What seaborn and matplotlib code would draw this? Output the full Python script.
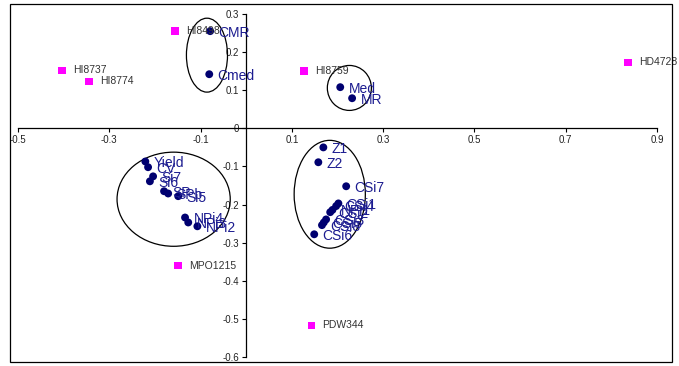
import pandas as pd
import matplotlib
matplotlib.use("Agg")
import matplotlib.pyplot as plt
import seaborn as sns
from matplotlib.patches import Ellipse, Rectangle
from matplotlib.ticker import FuncFormatter

# genotypes (magenta squares)
geno_names = ['HI8498', 'HI8737', 'HI8774', 'HI8759', 'HD4728', 'MPO1215', 'PDW344']
geno_x = [-0.156, -0.403, -0.344, 0.127, 0.836, -0.149, 0.143]
geno_y = [0.255, 0.152, 0.123, 0.150, 0.173, -0.360, -0.517]

# traits (navy circles)
trait_names = ['CMR', 'Cmed', 'Med', 'MR', 'Z1', 'Z2', 'CSi7', 'CSi1', 'CSi4', 'NPi1',
               'CSi2', 'CSi3', 'CSi5', 'CSi8', 'CSi6',
               'Yield', 'CV', 'Si7', 'Si6', 'SP', 'SPb', 'Si5', 'NPi4', 'NPi3', 'NPi2']
trait_x = [-0.079, -0.081, 0.206, 0.232, 0.169, 0.158, 0.219, 0.202, 0.197, 0.189,
           0.184, 0.175, 0.170, 0.166, 0.149,
           -0.221, -0.215, -0.204, -0.211, -0.180, -0.171, -0.149, -0.134, -0.127, -0.107]
trait_y = [0.255, 0.142, 0.108, 0.079, -0.050, -0.089, -0.152, -0.197, -0.204, -0.214,
           -0.220, -0.239, -0.247, -0.254, -0.278,
           -0.087, -0.102, -0.126, -0.139, -0.165, -0.171, -0.178, -0.234, -0.247, -0.257]

# grouping ellipses: centre x, centre y, width, height
ell_cx = [-0.086, 0.226, -0.159, 0.183]
ell_cy = [0.192, 0.106, -0.186, -0.173]
ell_w = [0.090, 0.0965, 0.248, 0.156]
ell_h = [0.194, 0.118, 0.247, 0.283]

geno_df = pd.DataFrame({'x': geno_x, 'y': geno_y, 'name': geno_names})
trait_df = pd.DataFrame({'x': trait_x, 'y': trait_y, 'name': trait_names})

sns.set_style('white')
plt.rcParams['font.family'] = ['Liberation Sans', 'DejaVu Sans']

fig = plt.figure(figsize=(6.79, 3.66), dpi=100)
ax = fig.add_axes([18 / 679, 9 / 366, 639 / 679, 343 / 366])

sns.scatterplot(data=geno_df, x='x', y='y', marker='s', color='#ff00ff', s=30,
                edgecolor='none', ax=ax, zorder=3)
sns.scatterplot(data=trait_df, x='x', y='y', marker='o', color='#000070', s=32,
                edgecolor='none', ax=ax, zorder=3)

for _, r in geno_df.iterrows():
    ax.annotate(r['name'], (r['x'], r['y']), xytext=(8, 0), textcoords='offset points',
                va='center', ha='left', fontsize=7.5, color='#333333')
for _, r in trait_df.iterrows():
    ax.annotate(r['name'], (r['x'], r['y']), xytext=(6, -1), textcoords='offset points',
                va='center', ha='left', fontsize=10, color='#1c1c90')

for cx, cy, w, h in zip(ell_cx, ell_cy, ell_w, ell_h):
    ax.add_patch(Ellipse((cx, cy), w, h, fill=False, edgecolor='black', lw=0.9))

ax.set_xlim(-0.5, 0.9)
ax.set_ylim(-0.6, 0.3)
ax.set_xticks([-0.5, -0.3, -0.1, 0.1, 0.3, 0.5, 0.7, 0.9])
ax.set_yticks([0.3, 0.2, 0.1, 0, -0.1, -0.2, -0.3, -0.4, -0.5, -0.6])
fmt = FuncFormatter(lambda v, p: '0' if abs(v) < 1e-9 else '{:g}'.format(round(v, 1)))
ax.xaxis.set_major_formatter(fmt)
ax.yaxis.set_major_formatter(fmt)
ax.set_xlabel('')
ax.set_ylabel('')

ax.spines['left'].set_position(('data', 0))
ax.spines['bottom'].set_position(('data', 0))
ax.spines['top'].set_visible(False)
ax.spines['right'].set_visible(False)
for sp in ['left', 'bottom']:
    ax.spines[sp].set_color('black')
    ax.spines[sp].set_linewidth(0.9)
ax.tick_params(axis='both', direction='out', length=3, width=0.8, color='black',
               labelsize=7, labelcolor='#222222', bottom=True, left=True, pad=2)
ax.patch.set_alpha(0)

# outer frame around the chart
fig.patches.append(Rectangle((10 / 679, 4 / 366), 662 / 679, 358 / 366, transform=fig.transFigure,
                             fill=False, edgecolor='black', lw=0.9))

fig.savefig('out.png', dpi=100)
